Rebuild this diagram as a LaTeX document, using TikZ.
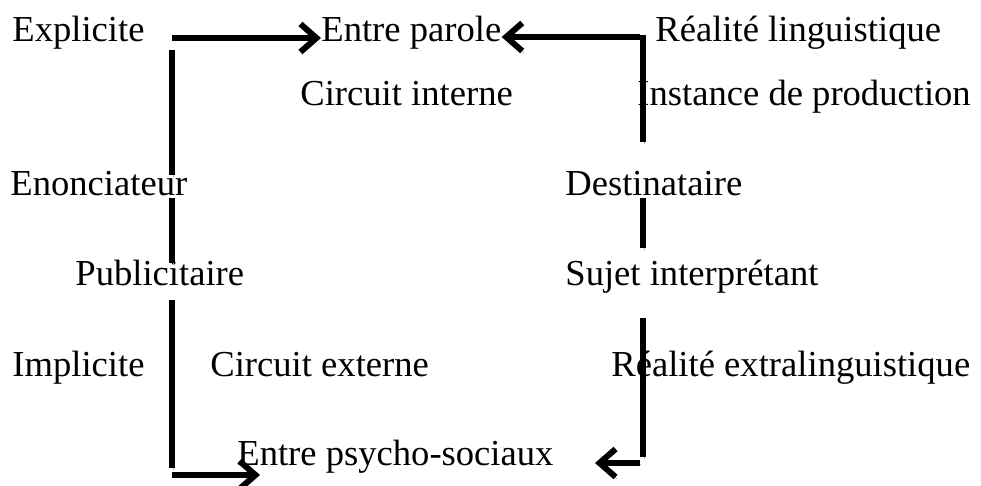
\documentclass[tikz,border=0pt]{standalone}
\usepackage{fontspec}
\setmainfont{Liberation Serif}
\usetikzlibrary{arrows.meta}

\begin{document}
\begin{tikzpicture}[x=0.5pt,y=-0.5pt,%
        t/.style={anchor=base west, inner sep=0pt,%
                        font=\fontsize{18.3}{20}\selectfont},
        bar/.style={line width=3pt,%
                        preaction={draw=gray!60, transform canvas={shift={(0.7pt,-0.9pt)}}}},
        arr/.style={bar, -{Straight Barb[length=8pt,width=14pt]}}]
    \useasboundingbox (0,0) rectangle (981,486);
    % labels
    \node[t] (expl)    at (12,42)   {Explicite};
    \node[t] (parole)  at (321,42)  {Entre parole};
    \node[t] (reallin) at (655,42)  {Réalité linguistique};
    \node[t] (cint)    at (300,106) {Circuit interne};
    \node[t] (inst)    at (637,106) {Instance de production};
    \node[t] (enon)    at (10,196)  {Enonciateur};
    \node[t] (dest)    at (565,196) {Destinataire};
    \node[t] (pub)     at (75,286)  {Publicitaire};
    \node[t] (sujet)   at (565,286) {Sujet interprétant};
    \node[t] (impl)    at (12,377)  {Implicite};
    \node[t] (cext)    at (210,377) {Circuit externe};
    \node[t] (realext) at (611,377) {Réalité extralinguistique};
    \node[t] (psycho)  at (237,466) {Entre psycho-sociaux};
    % corners and breaks
    \coordinate (tl) at (172,38);
    \coordinate (tr) at (640,37);
    \coordinate (bl) at (172,475);
    \coordinate (br) at (640,463);
    % left side
    \draw[arr] (tl) -- (tl -| parole.west);
    \draw[bar]
        \foreach \a/\b in {50/175,198/263,300/468} {
            (172,\a) -- (172,\b)
        };
    \draw[arr] (bl) -- (260,475);
    % right side
    \draw[arr] (tr) -- (tr -| parole.east);
    \draw[bar]
        \foreach \a/\b in {35/142,198/248,318/457} {
            (643,\a) -- (643,\b)
        };
    \draw[arr] (br) -- (595,463);
\end{tikzpicture}
\end{document}
